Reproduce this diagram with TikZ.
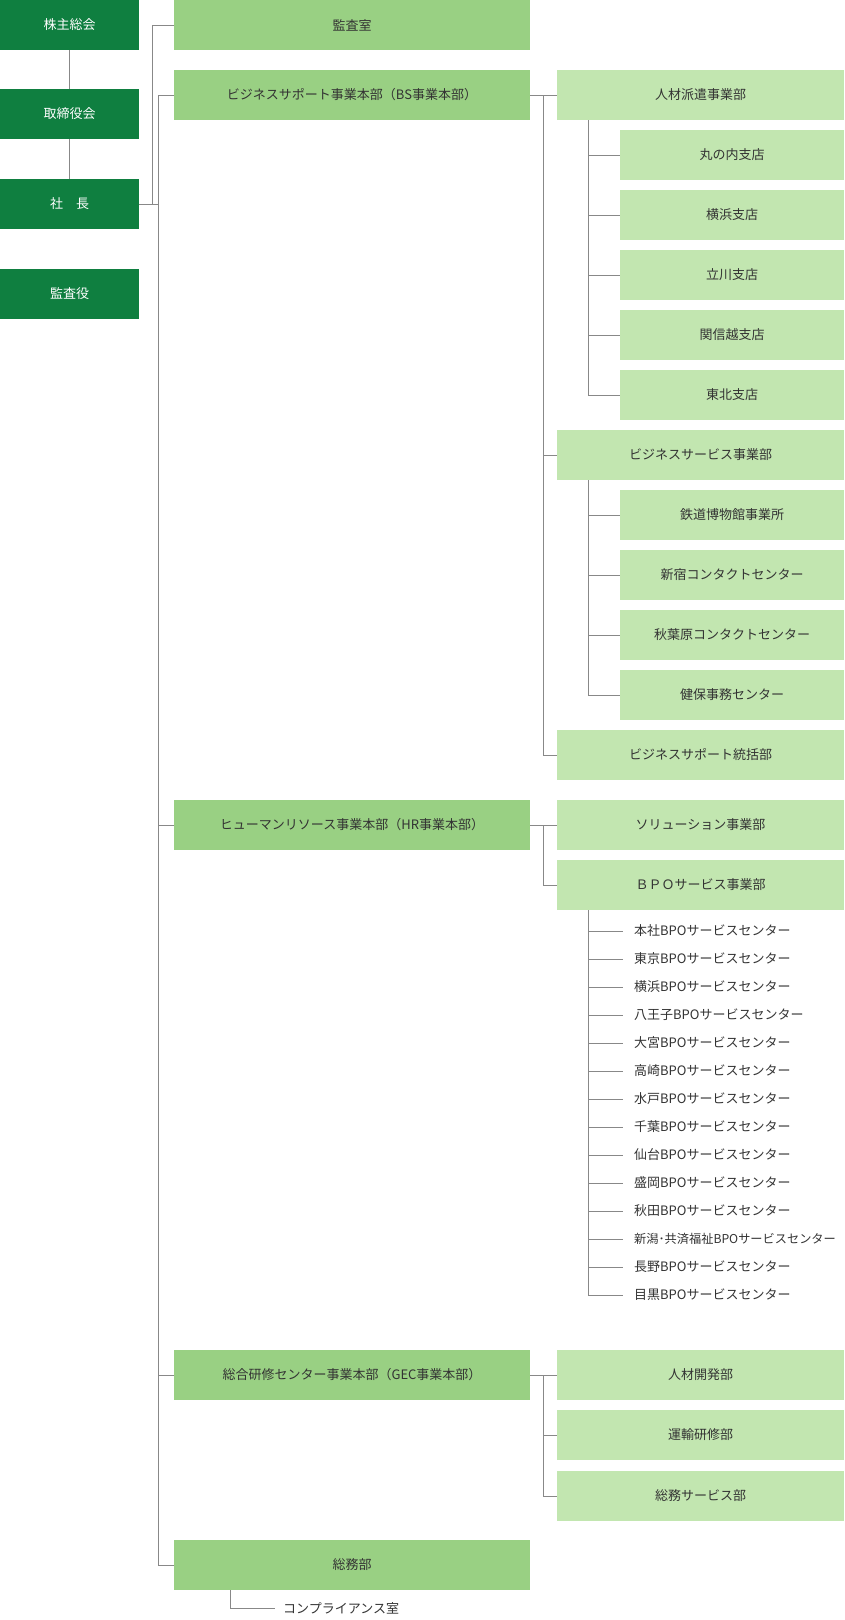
\documentclass[tikz,border=0pt]{standalone}
\usepackage{fontspec}
\setmainfont{Noto Sans CJK JP}
\definecolor{dg}{HTML}{0F7F40}
\definecolor{mg}{HTML}{99D083}
\definecolor{lg}{HTML}{C2E6B0}
\definecolor{tx}{HTML}{333333}
\definecolor{ln}{HTML}{888888}
\begin{document}
\begin{tikzpicture}[x=1pt,y=-1pt,
  dbox/.style={fill=dg,text=white,font=\fontsize{13}{15}\selectfont,minimum width=139pt,minimum height=50pt,inner sep=0pt},
  mbox/.style={fill=mg,text=tx,font=\fontsize{13}{15}\selectfont,minimum width=356pt,minimum height=50pt,inner sep=0pt},
  lbox/.style={fill=lg,text=tx,font=\fontsize{13}{15}\selectfont,minimum width=287pt,minimum height=50pt,inner sep=0pt},
  sbox/.style={fill=lg,text=tx,font=\fontsize{13}{15}\selectfont,minimum width=224pt,minimum height=50pt,inner sep=0pt},
  item/.style={text=tx,font=\fontsize{13}{15}\selectfont,anchor=west,inner sep=0pt},
  con/.style={draw=ln,line width=0.8pt}]
\useasboundingbox (0,0) rectangle (844,1620);
% left column
\node[dbox] (kabu) at (69.5,25) {株主総会};
\node[dbox] (tori) at (69.5,114) {取締役会};
\node[dbox] (sha) at (69.5,204) {社\quad 長};
\node[dbox] (kan) at (69.5,294) {監査役};
\draw[con] (kabu) -- (tori);
\draw[con] (tori) -- (sha);
% second column
\node[mbox] (kansa) at (352,25) {監査室};
\node[mbox] (bs) at (352,95) {ビジネスサポート事業本部（BS事業本部）};
\node[mbox] (hr) at (352,825) {ヒューマンリソース事業本部（HR事業本部）};
\node[mbox] (gec) at (352,1375) {総合研修センター事業本部（GEC事業本部）};
\node[mbox] (som) at (352,1565) {総務部};
\coordinate (j1) at (152,204);
\coordinate (j2) at (158,204);
\draw[con] (sha.east) -- (j2);
\draw[con] (j1) |- (kansa.west);
\draw[con] (j2) |- (bs.west);
\draw[con] (j2) |- (hr.west);
\draw[con] (j2) |- (gec.west);
\draw[con] (j2) |- (som.west);
% BS children
\node[lbox] (jin) at (700.5,95) {人材派遣事業部};
\node[sbox] (s1) at (732,155) {丸の内支店};
\node[sbox] (s2) at (732,215) {横浜支店};
\node[sbox] (s3) at (732,275) {立川支店};
\node[sbox] (s4) at (732,335) {関信越支店};
\node[sbox] (s5) at (732,395) {東北支店};
\node[lbox] (bsv) at (700.5,455) {ビジネスサービス事業部};
\node[sbox] (t1) at (732,515) {鉄道博物館事業所};
\node[sbox] (t2) at (732,575) {新宿コンタクトセンター};
\node[sbox] (t3) at (732,635) {秋葉原コンタクトセンター};
\node[sbox] (t4) at (732,695) {健保事務センター};
\node[lbox] (bst) at (700.5,755) {ビジネスサポート統括部};
\coordinate (b0) at (543,95);
\draw[con] (bs.east) -- (jin.west);
\draw[con] (b0) |- (bsv.west);
\draw[con] (b0) |- (bst.west);
\foreach \n in {s1,s2,s3,s4,s5} \draw[con] (588,120) |- (\n.west);
\foreach \n in {t1,t2,t3,t4} \draw[con] (588,480) |- (\n.west);
% HR children
\node[lbox] (sol) at (700.5,825) {ソリューション事業部};
\node[lbox] (bpo) at (700.5,885) {ＢＰＯサービス事業部};
\draw[con] (hr.east) -- (sol.west);
\draw[con] (543,825) |- (bpo.west);
\foreach [count=\i] \t in {本社,東京,横浜,八王子,大宮,高崎,水戸,千葉,仙台,盛岡,秋田,新潟･共済福祉,長野,目黒}{
  \node[item] (p\i) at (634,{931+28*(\i-1)}) {\ifnum\i=12 \fontsize{12.2}{15}\selectfont\fi\t BPOサービスセンター};
  \draw[con] (588,910) |- (623,{931+28*(\i-1)});
}
% GEC children
\node[lbox] (g1) at (700.5,1375) {人材開発部};
\node[lbox] (g2) at (700.5,1435) {運輸研修部};
\node[lbox] (g3) at (700.5,1496) {総務サービス部};
\draw[con] (gec.east) -- (g1.west);
\draw[con] (543,1375) |- (g2.west);
\draw[con] (543,1375) |- (g3.west);
% compliance
\node[item] (comp) at (283,1608) {コンプライアンス室};
\draw[con] (230,1590) |- (275,1608);
\end{tikzpicture}
\end{document}
